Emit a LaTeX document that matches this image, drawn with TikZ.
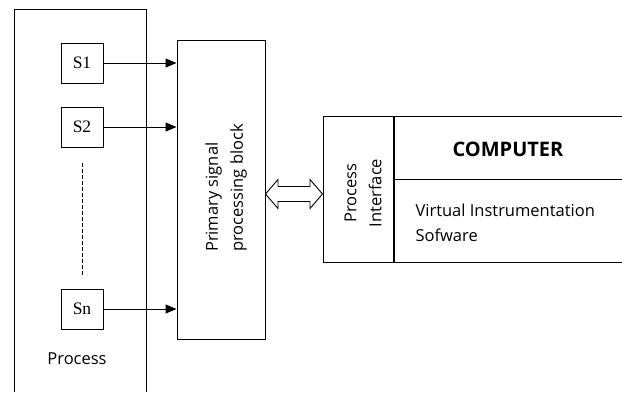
\documentclass[tikz,border=0pt]{standalone}
\usepackage{fontspec}
\setmainfont{Open Sans}
\newfontfamily\serifface{Liberation Serif}
\usetikzlibrary{arrows.meta}
\tikzset{
  box/.style={draw, line width=1pt, inner sep=0pt},
  sensor/.style={box, minimum width=42pt, minimum height=40pt, font=\serifface\fontsize{17.5}{20}\selectfont},
  sig/.style={line width=1pt, -{Triangle[length=11pt,width=9pt]}},
  lbl/.style={font=\fontsize{16.5}{25}\selectfont, align=center},
}
\begin{document}
\begin{tikzpicture}[x=1pt, y=-1pt]
\useasboundingbox (0,0) rectangle (622,392);
% process enclosure (open at the bottom edge)
\draw[line width=1pt] (14,392) -- (14,9) -- (146,9) -- (146,392);
\node[lbl] (proc) at (77,359) {Process};
% sensors
\node[sensor] (s1) at (82,63) {S1};
\node[sensor] (s2) at (82,127) {S2};
\node[sensor] (sn) at (82,309) {Sn};
\draw[dashed, dash pattern=on 4pt off 2pt, line width=0.7pt] (s2.south) ++(0,15) coordinate (d1) -- ([yshift=13pt]sn.north) coordinate (d2);
% primary signal processing block
\node[box, minimum width=88pt, minimum height=299pt] (psp) at (221,189.5) {};
\node[lbl, align=left, rotate=90] (psptext) at (226,188) {Primary signal\\processing block};
\draw[sig] (s1.east) -- (s1.east -| psp.west);
\draw[sig] (s2.east) -- (s2.east -| psp.west);
\draw[sig] (sn.east) -- (sn.east -| psp.west);
% computer
\node[box, minimum width=70pt, minimum height=146pt] (pi) at (358,189) {};
\node[lbl, rotate=90] (pitext) at (363,193) {Process\\Interface};
\node[box, minimum width=228pt, minimum height=146pt, anchor=west] (comp) at (pi.east) {};
\draw[line width=1.6pt] (pi.north east) -- (pi.south east);
\coordinate (hd) at (393,179);
\draw[line width=1pt] (hd) -- (hd -| comp.east);
\node[font=\bfseries\fontsize{20}{22}\selectfont] (ctitle) at (508,149) {COMPUTER};
\node[lbl, align=left, anchor=west] (vis) at (412,223) {Virtual Instrumentation\\Sofware};
% bidirectional hollow link between the block and the interface
\coordinate (la) at (psp.east |- 0,194);
\coordinate (lb) at (pi.west |- 0,194);
\draw[line width=0.9pt, fill=white]
  (la) -- ++(12.5,-14.5) -- ++(0,7) -- ([xshift=-12.5pt, yshift=7.5pt]lb) -- ++(0,-7)
  -- (lb) -- ++(-12.5,14.5) -- ++(0,-7) -- ([xshift=12.5pt, yshift=-7.5pt]la) -- ++(0,7) -- cycle;
\end{tikzpicture}
\end{document}
